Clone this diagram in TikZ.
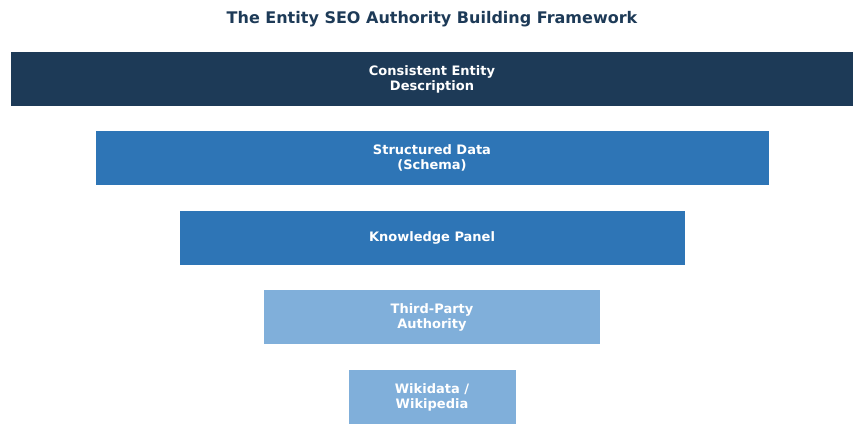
\documentclass[tikz,border=0pt]{standalone}
\usepackage{fontspec}
\setmainfont{DejaVu Sans}
\usetikzlibrary{positioning}
\definecolor{tierdark}{HTML}{1D3A57}
\definecolor{tiermid}{HTML}{2E75B6}
\definecolor{tierlight}{HTML}{80AFDA}
\tikzset{
  tier/.style={rectangle, inner sep=0pt, minimum height=54pt, text=white,
    font=\fontsize{13}{15}\selectfont\bfseries, align=center}
}
\begin{document}
\begin{tikzpicture}[x=1pt,y=-1pt]
		% Canvas
		\useasboundingbox (0,0) rectangle (864,447);
		\node[font=\fontsize{16}{19}\selectfont\bfseries, text=tierdark] (title) at (432,19) {The Entity SEO Authority Building Framework};
		% Tiers, widest on top
		\node[tier, fill=tierdark, minimum width=842pt] (consistent) at (432,79) {Consistent Entity\\Description};
		\node[tier, fill=tiermid, minimum width=673pt] (schema) at (432,158) {Structured Data\\(Schema)};
		\node[tier, fill=tiermid, minimum width=505pt] (panel) at (432,238) {Knowledge Panel};
		\node[tier, fill=tierlight, minimum width=336pt] (thirdparty) at (432,317) {Third-Party\\Authority};
		\node[tier, fill=tierlight, minimum width=167pt] (wiki) at (432,397) {Wikidata /\\Wikipedia};
\end{tikzpicture}
\end{document}
